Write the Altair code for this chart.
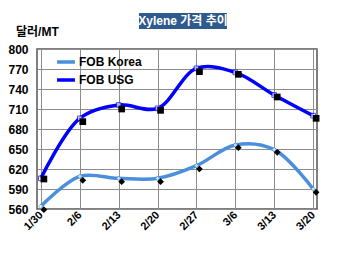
import altair as alt
import pandas as pd

dates = ["1/30", "2/6", "2/13", "2/20", "2/27", "3/6", "3/13", "3/20"]
series = ["FOB Korea", "FOB USG"]
# smoothed line values
korea_line = [564, 609, 606, 606, 625, 656, 649, 590]
usg_line = [606, 696, 716, 711, 771, 765, 731, 700]
# black marker values
korea_mark = [559, 603, 601, 601, 620, 652, 645, 585]
usg_mark = [605, 691, 710, 708, 766, 762, 728, 696]
y_ticks = [560, 590, 620, 650, 680, 710, 740, 770, 800]

rows = []
for i, d in enumerate(dates):
    rows.append({"date": d, "series": series[0], "line": korea_line[i], "mark": korea_mark[i]})
    rows.append({"date": d, "series": series[1], "line": usg_line[i], "mark": usg_mark[i]})
df = pd.DataFrame(rows)

FONT = "Liberation Sans, Noto Sans CJK KR"

xaxis = alt.Axis(title=None, labelAngle=-45, labelAlign="right", labelBaseline="middle",
                 labelFont=FONT, labelFontSize=11, labelFontWeight="bold", labelColor="#000",
                 labelPadding=4, ticks=False, domain=False, grid=True, labelOverlap=False,
                 gridColor="#8c8c8c", gridWidth=1)
xscale = alt.Scale(type="point", padding=0.1)
yscale = alt.Scale(domain=[560, 800], nice=False, zero=False)
yaxis = alt.Axis(title=None, values=y_ticks, labelFont=FONT, labelFontSize=12,
                 labelFontWeight="bold", labelColor="#000", labelPadding=9,
                 labelOverlap=False,
                 ticks=False, domain=False, grid=True, gridColor="#8c8c8c", gridWidth=1)


def X():
    return alt.X("date:N", sort=dates, scale=xscale, axis=xaxis)


def Y(field):
    return alt.Y(field + ":Q", scale=yscale, axis=yaxis)


color = alt.Color("series:N", scale=alt.Scale(domain=series, range=["#4a8fdc", "#0000ff"]),
                  legend=alt.Legend(title=None, orient="none", legendX=18, legendY=2,
                                    symbolType="stroke", symbolStrokeWidth=3.5, symbolSize=320,
                                    labelFont=FONT, labelFontSize=12, labelFontWeight="bold",
                                    labelColor="#000", rowPadding=0, labelOffset=2))

lines = alt.Chart(df).mark_line(interpolate="catmull-rom", strokeWidth=3.5, clip=False).encode(
    x=X(), y=Y("line"), color=color)

shapes = {"FOB Korea": "diamond", "FOB USG": "square"}
cols = {"FOB Korea": "#4a8fdc", "FOB USG": "#0000ff"}
layers = [lines]
for s in series:
    sub = df[df["series"] == s]
    layers.append(alt.Chart(sub).mark_point(shape=shapes[s], filled=False, size=22, strokeWidth=1,
                                             fill="white", color=cols[s], clip=False).encode(
        x=X(), y=Y("line")))
for s in series:
    sub = df[df["series"] == s]
    layers.append(alt.Chart(sub).mark_point(shape=shapes[s], filled=True, size=45, color="#000",
                                             opacity=1, clip=False).encode(
        x=X(), y=Y("mark"), xOffset=alt.value(3)))

title_df = pd.DataFrame({"t": ["Xylene 가격 추이"]})
title_box = alt.Chart(title_df).mark_rect(color="#2f5a8e", clip=False).encode(
    x=alt.value(102), x2=alt.value(190), y=alt.value(-36), y2=alt.value(-20))
title_txt = alt.Chart(title_df).mark_text(color="white", font=FONT, fontSize=12, fontWeight="bold",
                                          align="center", baseline="middle", clip=False).encode(
    x=alt.value(146), y=alt.value(-28), text="t:N")
ylab_df = pd.DataFrame({"t": ["달러/MT"]})
ylab = alt.Chart(ylab_df).mark_text(color="black", font=FONT, fontSize=12, fontWeight="bold",
                                    align="left", baseline="middle", clip=False).encode(
    x=alt.value(-21), y=alt.value(-17), text="t:N")
layers += [title_box, title_txt, ylab]

chart = alt.layer(*layers).properties(
    width=280, height=160, padding={"left": 37, "top": 49, "right": 33, "bottom": 46},
    autosize=alt.AutoSizeParams(type="none"), background="white"
).configure_view(stroke="#555", strokeWidth=1.5)

chart.save("out.html", embed_options={"renderer": "svg", "actions": False})
